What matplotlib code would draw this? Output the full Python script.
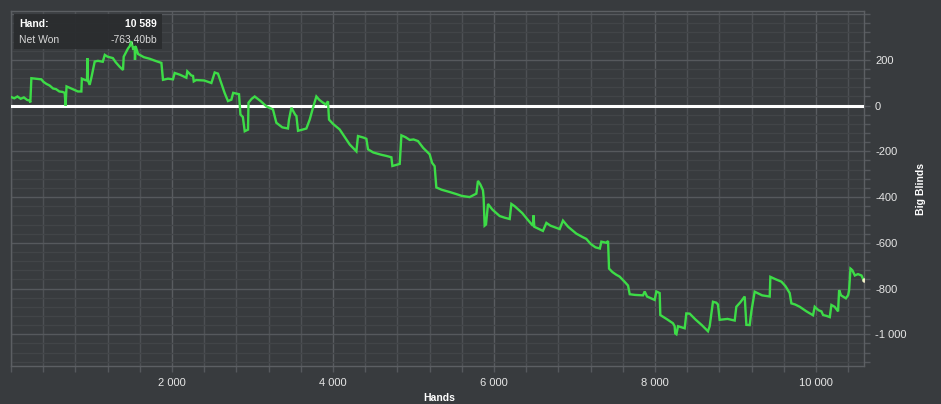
import matplotlib
matplotlib.use('Agg')
import matplotlib.pyplot as plt
from matplotlib.ticker import MultipleLocator, FuncFormatter
from matplotlib.patches import Rectangle

hands = [0, 40, 80, 120, 160, 200, 232, 240, 253, 300, 377, 400, 440, 480, 522, 560, 600, 640, 667, 678,
         690, 730, 780, 830, 874, 880, 920, 944, 948, 955, 977, 1000, 1040, 1080, 1140, 1165, 1200, 1265,
         1300, 1350, 1391, 1400, 1453, 1475, 1495, 1515, 1536, 1540, 1548, 1578, 1650, 1723, 1800, 1868,
         1888, 1950, 2012, 2033, 2100, 2178, 2190, 2240, 2261, 2270, 2300, 2400, 2489, 2530, 2571, 2610,
         2654, 2695, 2737, 2760, 2832, 2850, 2880, 2903, 2944, 2950, 2990, 3027, 3100, 3172, 3254, 3296,
         3370, 3440, 3453, 3483, 3530, 3545, 3565, 3620, 3669, 3710, 3751, 3793, 3830, 3875, 3910, 3937,
         3950, 4000, 4082, 4150, 4207, 4290, 4310, 4380, 4414, 4434, 4500, 4600, 4663, 4725, 4737, 4800,
         4828, 4849, 4900, 4952, 5000, 5055, 5120, 5200, 5230, 5262, 5283, 5350, 5450, 5532, 5600, 5697,
         5780, 5800, 5830, 5862, 5870, 5883, 5900, 5925, 5980, 6070, 6130, 6194, 6215, 6256, 6350, 6420,
         6483, 6490, 6500, 6607, 6650, 6700, 6815, 6856, 6920, 7022, 7100, 7146, 7200, 7260, 7314, 7333,
         7395, 7416, 7428, 7470, 7519, 7560, 7620, 7664, 7685, 7750, 7850, 7871, 7900, 7995, 8016, 8057,
         8065, 8150, 8222, 8243, 8250, 8265, 8285, 8330, 8368, 8388, 8430, 8500, 8580, 8657, 8678, 8719,
         8760, 8781, 8802, 8900, 8989, 9009, 9060, 9113, 9134, 9175, 9196, 9237, 9330, 9424, 9432, 9500,
         9569, 9620, 9672, 9693, 9740, 9797, 9880, 9962, 9983, 10030, 10066, 10087, 10130, 10170, 10190,
         10230, 10273, 10286, 10310, 10370, 10398, 10410, 10427, 10450, 10481, 10520, 10564, 10589]

net_won_bb = [38, 32, 40, 30, 36, 25, 22, 14, 120, 118, 115, 105, 95, 88, 75, 72, 62, 60, 56, 0,
              84, 78, 70, 62, 62, 118, 112, 110, 208, 110, 91, 125, 193, 196, 192, 222, 214, 208,
              190, 170, 156, 214, 250, 260, 282, 250, 255, 200, 260, 226, 212, 205, 195, 187,
              113, 118, 115, 143, 135, 122, 150, 132, 130, 106, 112, 110, 99, 145, 140, 100,
              55, 20, 26, 56, 50, -39, -50, -112, -105, 13, 30, 40, 20, -3, -17, -75,
              -95, -100, -61, -9, -40, -45, -110, -105, -100, -61, -9, 40, 25, 13, 5, 19,
              -61, -80, -104, -140, -170, -200, -133, -140, -145, -191, -205, -215, -220, -226, -264, -258,
              -255, -130, -138, -150, -148, -155, -185, -213, -250, -265, -358, -368, -378, -387, -395, -400,
              -385, -329, -345, -370, -400, -525, -520, -430, -455, -483, -490, -496, -430, -440, -470, -500,
              -526, -480, -530, -548, -513, -525, -540, -503, -530, -560, -575, -583, -605, -620, -625, -595,
              -600, -592, -713, -728, -740, -748, -770, -787, -825, -828, -830, -813, -835, -850, -813, -820,
              -916, -935, -952, -965, -996, -1000, -965, -970, -974, -909, -910, -935, -960, -987, -965, -858,
              -862, -870, -937, -933, -940, -880, -860, -835, -959, -960, -900, -814, -830, -835, -749, -760,
              -770, -790, -820, -865, -870, -880, -900, -917, -880, -895, -900, -916, -920, -925, -872,
              -880, -900, -807, -830, -843, -829, -807, -713, -720, -743, -737, -743, -763]

total_hands_label = "10 589"
net_won_label = "-763,40bb"

BG = '#383b3e'
TEXT = '#e6e6e6'

plt.rcParams['font.family'] = ['Liberation Sans', 'DejaVu Sans']

W, H = 941, 404
fig = plt.figure(figsize=(W / 100, H / 100), dpi=100, facecolor=BG)
ax = fig.add_axes([11 / W, 1 - 366 / H, (864 - 11) / W, (366 - 11) / H])
ax.set_facecolor(BG)

ax.set_xlim(0, 10595)
ax.set_ylim(-1139, 414)

ax.xaxis.set_major_locator(MultipleLocator(2000))
ax.xaxis.set_minor_locator(MultipleLocator(400))
ax.yaxis.set_major_locator(MultipleLocator(200))
ax.yaxis.set_minor_locator(MultipleLocator(40))


def fmt_x(v, pos):
    if v <= 0:
        return ''
    return f"{int(round(v)):,}".replace(',', ' ')


def fmt_y(v, pos):
    if v > 300:
        return ''
    s = f"{int(round(abs(v))):,}".replace(',', ' ')
    return ('-' if v < 0 else '') + s


ax.xaxis.set_major_formatter(FuncFormatter(fmt_x))
ax.yaxis.set_major_formatter(FuncFormatter(fmt_y))

ax.xaxis.grid(True, which='minor', color='#4d5054', lw=1.0)
ax.xaxis.grid(True, which='major', color='#595c60', lw=1.0)
ax.yaxis.grid(True, which='minor', color='#424548', lw=1.0)
ax.yaxis.grid(True, which='major', color='#56595d', lw=1.0)
ax.set_axisbelow(True)

ax.yaxis.tick_right()
ax.tick_params(axis='both', which='both', colors='#56595d', length=4, width=1,
               labelcolor=TEXT, labelsize=8, pad=4)
ax.tick_params(axis='y', which='both', left=False, right=True)
ax.tick_params(axis='x', which='both', top=False, bottom=True, pad=5)

for s in ax.spines.values():
    s.set_color('#5c5f63')
    s.set_linewidth(1.0)

# info box (under the line, like the reference)
ax.add_patch(Rectangle((14 / W, 1 - 49 / H), 148 / W, 35 / H, transform=fig.transFigure,
                       facecolor='#2a2c2e', edgecolor='none', alpha=0.92, zorder=3.5,
                       clip_on=False))

ax.axhline(0, color='white', lw=2.2, zorder=3)
ax.plot(hands, net_won_bb, color='#3ddc47', lw=1.7, zorder=4, solid_joinstyle='miter')
ax.plot(hands[-1], net_won_bb[-1], 'o', ms=3.2, color='#f1ecc6', zorder=5, mew=0)

fig.text(921 / W, 1 - 189 / H, 'Big Blinds', rotation=90, ha='center', va='center',
         color='white', fontsize=7.5, fontweight='bold')
fig.text(439 / W, 1 - 403 / H, 'Hands', ha='center', va='bottom',
         color='white', fontsize=7.5, fontweight='bold')

fig.text(19 / W, 1 - 24 / H, 'Hand:', ha='left', va='center', color='white',
         fontsize=7.5, fontweight='bold', zorder=6)
fig.text(157 / W, 1 - 24 / H, total_hands_label, ha='right', va='center', color='white',
         fontsize=7.5, fontweight='bold', zorder=6)
fig.text(19 / W, 1 - 40 / H, 'Net Won', ha='left', va='center', color='#d8d8d8',
         fontsize=7.5, zorder=6)
fig.text(157 / W, 1 - 40 / H, net_won_label, ha='right', va='center', color='#d8d8d8',
         fontsize=7.5, zorder=6)

fig.savefig('out.png', dpi=100, facecolor=BG)
